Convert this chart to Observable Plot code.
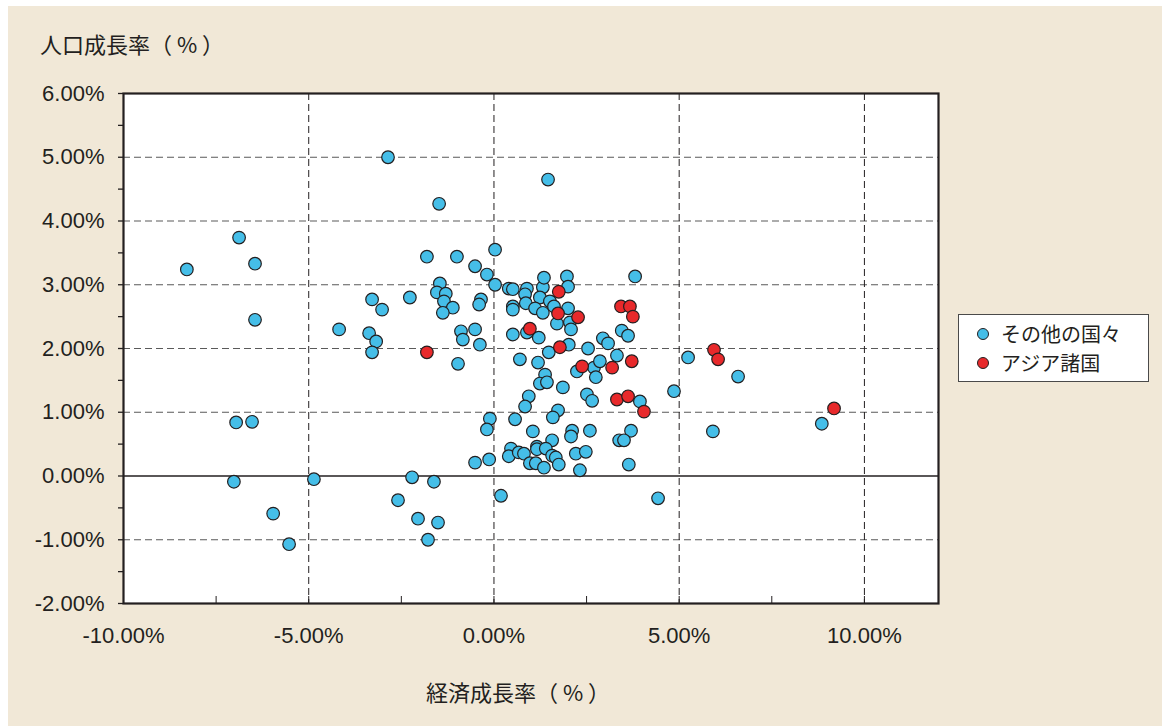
<!DOCTYPE html>
<html>
<head>
<meta charset="utf-8">
<script src="https://cdn.jsdelivr.net/npm/d3@7"></script>
<script src="https://cdn.jsdelivr.net/npm/@observablehq/plot@0.6"></script>
<style>
  html, body { margin: 0; padding: 0; background: #ffffff; }
  #wrap { position: relative; width: 1162px; height: 726px; overflow: hidden; }
  #panel { position: absolute; left: 8px; top: 6px; right: 0; bottom: 0; background: #F1E8D7; }
  #chart { position: absolute; left: 0; top: 0; }
  .title { position: absolute; font-family: "Noto Sans CJK JP", sans-serif; font-size: 22px; color: #231F20; white-space: nowrap; height: 26px; line-height: 26px; }
  #legend { position: absolute; left: 958px; top: 314px; width: 189px; height: 66px; background: #fff; border: 1.5px solid #4a4a4a; font-family: "Noto Sans CJK JP", sans-serif; color: #231F20; }
  .li { position: absolute; left: 0; width: 185px; height: 29px; }
  .sw { position: absolute; left: 18px; top: 9px; width: 10px; height: 10px; border-radius: 50%; border: 1.2px solid #231F20; }
  .lt { position: absolute; left: 42px; top: 0; height: 29px; line-height: 29px; font-size: 20px; white-space: nowrap; }
</style>
</head>
<body>
<div id="wrap">
  <div id="panel"></div>
  <div id="chart"></div>
  <div class="title" style="left:40px; top:30px;">人口成長率（ % ）</div>
  <div class="title" style="left:426px; top:678px;">経済成長率（ % ）</div>
  <div id="legend"></div>
</div>
<script>
// ---- data (values in %) ----
const otherX = [-8.29,-6.88,-6.45,-6.45,-6.96,-6.53,-7.02,-5.96,-5.53,-4.86,
  -4.18,-3.37,-3.29,-3.18,-3.29,-3.02,-2.86,-2.27,-2.21,-2.59,
  -2.05,-1.78,-1.62,-1.51,-1.48,-1.81,-1.00,-0.51,0.03,-0.19,
  0.03,-1.46,-1.54,-1.30,-1.35,-1.11,-1.38,-0.35,-0.40,-0.89,
  -0.51,-0.84,-0.38,-0.97,0.40,0.51,0.89,0.84,1.32,1.35,
  1.97,2.00,3.81,1.24,1.51,1.62,0.86,1.11,1.32,0.51,
  0.51,2.00,1.70,2.05,2.08,0.51,0.89,1.21,2.94,3.45,
  3.62,1.46,1.48,2.02,2.54,3.08,0.70,1.19,2.24,2.70,
  2.86,2.75,3.32,1.38,1.24,1.43,1.86,0.94,0.84,2.51,
  2.65,3.94,4.86,5.24,-0.11,-0.19,0.57,1.73,1.59,1.05,
  2.11,2.08,2.59,3.70,3.38,3.51,3.64,1.57,0.46,0.40,
  0.67,0.81,1.16,1.16,1.40,1.57,1.67,0.97,1.13,1.35,
  1.75,2.21,2.48,2.32,-0.13,-0.51,0.19,4.43,6.59,5.91,
  8.85];
const otherY = [3.24,3.74,3.33,2.45,0.84,0.85,-0.09,-0.59,-1.07,-0.05,
  2.30,2.24,2.77,2.11,1.94,2.61,5.00,2.80,-0.02,-0.38,
  -0.67,-1.00,-0.09,-0.73,4.27,3.44,3.44,3.29,3.55,3.16,
  3.00,3.02,2.88,2.86,2.74,2.64,2.56,2.77,2.69,2.27,
  2.30,2.14,2.06,1.76,2.94,2.93,2.94,2.85,2.96,3.11,
  3.13,2.97,3.13,2.80,2.74,2.66,2.71,2.63,2.56,2.66,
  2.61,2.63,2.39,2.41,2.30,2.22,2.25,2.17,2.16,2.28,
  2.20,4.65,1.94,2.06,2.00,2.08,1.83,1.78,1.64,1.70,
  1.80,1.55,1.89,1.59,1.45,1.47,1.39,1.25,1.09,1.28,
  1.18,1.17,1.33,1.86,0.90,0.73,0.89,1.03,0.92,0.70,
  0.71,0.62,0.71,0.71,0.56,0.56,0.18,0.56,0.43,0.31,
  0.37,0.35,0.46,0.42,0.43,0.32,0.29,0.20,0.20,0.13,
  0.18,0.35,0.38,0.09,0.26,0.21,-0.31,-0.35,1.56,0.70,
  0.82];
const asiaX = [-1.81,0.97,1.75,1.73,2.27,1.78,2.38,3.19,3.72,3.43,3.67,3.75,3.32,3.62,4.05,5.94,6.05,9.18];
const asiaY = [1.94,2.31,2.89,2.55,2.49,2.02,1.72,1.70,1.80,2.66,2.66,2.50,1.20,1.25,1.01,1.98,1.83,1.06];

const seriesNames = ["その他の国々", "アジア諸国"];
const seriesColors = ["#45BEE8", "#E8292B"];

const xTickValues = [-10, -5, 0, 5, 10];
const xMinorTicks = [-10, -7.5, -5, -2.5, 0, 2.5, 5, 7.5, 10, 12];
const yTickValues = [-2, -1, 0, 1, 2, 3, 4, 5, 6];
const yMinorTicks = [-2, -1.5, -1, -0.5, 0, 0.5, 1, 1.5, 2, 2.5, 3, 3.5, 4, 4.5, 5, 5.5, 6];
const xGridValues = [-5, 0, 5, 10];
const yGridValues = [-1, 1, 2, 3, 4, 5];

const other = otherX.map((x, i) => ({x, y: otherY[i]}));
const asia = asiaX.map((x, i) => ({x, y: asiaY[i]}));
const fmt = d => d.toFixed(2) + "%";

const plot = Plot.plot({
  width: 1162,
  height: 726,
  marginLeft: 123,
  marginRight: 224,
  marginTop: 93,
  marginBottom: 123,
  style: {background: "transparent", fontFamily: "'Liberation Sans', Arial, sans-serif", fontSize: "22px", color: "#231F20", overflow: "visible"},
  x: {domain: [-10, 12], label: null},
  y: {domain: [-2, 6], label: null},
  marks: [
    Plot.frame({fill: "white"}),
    Plot.gridY(yGridValues, {stroke: "#5a5a5a", strokeOpacity: 1, strokeWidth: 1.2, strokeDasharray: "7,4"}),
    Plot.gridX(xGridValues, {stroke: "#231F20", strokeOpacity: 1, strokeWidth: 1, strokeDasharray: "7,4"}),
    Plot.ruleY([0], {stroke: "#231F20", strokeWidth: 1.5}),
    Plot.axisY(yTickValues, {tickSize: 0, tickPadding: 19, tickFormat: fmt, fontSize: 22}),
    Plot.axisY(yMinorTicks, {tickSize: 5, tickFormat: () => "", strokeWidth: 1.3}),
    Plot.axisX(xTickValues, {tickSize: 0, tickPadding: 24, tickFormat: fmt, fontSize: 22}),
    Plot.axisX(xMinorTicks, {tickSize: -7, tickFormat: () => "", strokeWidth: 1}),
    Plot.dot(other, {x: "x", y: "y", r: 6.3, fill: seriesColors[0], stroke: "#231F20", strokeWidth: 1.2}),
    Plot.dot(asia, {x: "x", y: "y", r: 6.3, fill: seriesColors[1], stroke: "#231F20", strokeWidth: 1.2}),
    Plot.frame({stroke: "#231F20", strokeWidth: 2.2})
  ]
});
document.getElementById("chart").appendChild(plot);

const legend = document.getElementById("legend");
seriesNames.forEach((name, i) => {
  const li = document.createElement("div");
  li.className = "li";
  li.style.top = (4 + i * 29) + "px";
  li.innerHTML = `<span class="sw" style="background:${seriesColors[i]}"></span><div class="lt">${name}</div>`;
  legend.appendChild(li);
});
</script>
</body>
</html>
